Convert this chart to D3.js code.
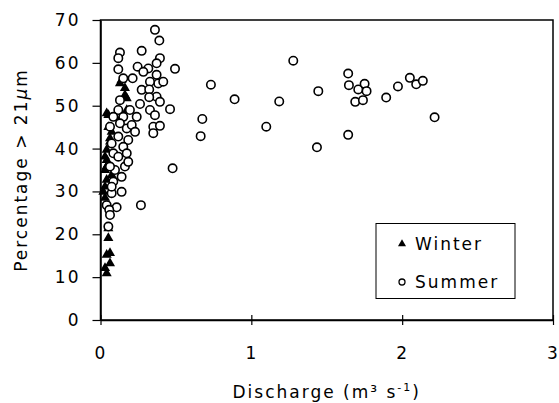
<!DOCTYPE html>
<html>
<head>
<meta charset="utf-8">
<script src="https://cdn.jsdelivr.net/npm/d3@7"></script>
<style>
  body { margin: 0; background: #fff; }
  svg text { font-family: "DejaVu Sans", sans-serif; font-size: 17px; letter-spacing: 2px; fill: #000; }
</style>
</head>
<body>
<div id="chart"></div>
<script>
// discharge (m3/s) vs percentage > 21um
const winter = [
    [0.14, 56], [0.162, 54.1], [0.174, 51.7], [0.129, 55.2], [0.162, 52.5],
    [0.052, 47.8], [0.041, 48.2], [0.174, 49], [0.14, 47.4], [0.052, 45],
    [0.074, 43.9], [0.063, 42.4], [0.063, 41.6], [0.041, 39.7], [0.03, 38.1],
    [0.041, 37.3], [0.041, 35.8], [0.03, 35], [0.074, 33.8], [0.041, 32.7],
    [0.03, 31.1], [0.019, 29.9], [0.03, 28.5], [0.041, 35.8], [0.052, 21.4],
    [0.052, 19.1], [0.063, 15.6], [0.041, 15.2], [0.063, 13.2], [0.03, 12.1],
    [0.041, 10.9]
];

const summer = [
    [0.361, 67.7], [0.39, 65.2], [0.273, 62.8], [0.129, 62.4], [0.118, 61.1],
    [0.394, 61.1], [0.494, 58.6], [0.118, 58.5], [0.246, 59.1], [0.317, 58.7],
    [0.372, 59.9], [0.213, 56.4], [0.151, 56.4], [0.284, 57.9], [0.372, 57.2],
    [0.383, 55.2], [0.416, 55.6], [0.328, 55.6], [0.273, 53.7], [0.323, 53.8],
    [0.372, 52.1], [0.323, 52.0], [0.129, 51.3], [0.394, 50.9], [0.461, 49.2],
    [0.262, 50.4], [0.118, 49.0], [0.195, 49.0], [0.328, 49.0], [0.361, 47.8],
    [0.085, 47.4], [0.151, 47.4], [0.24, 47.4], [0.063, 45.1], [0.129, 45.9],
    [0.174, 44.7], [0.207, 45.5], [0.229, 43.9], [0.35, 45.1], [0.394, 45.3],
    [0.35, 43.6], [0.118, 42.8], [0.184, 42], [0.074, 41.2], [0.151, 40.4],
    [0.085, 38.9], [0.174, 38.9], [0.118, 38.1], [0.162, 35.8], [0.184, 36.9],
    [0.14, 33.4], [0.096, 35], [0.063, 35.8], [0.085, 32.3], [0.14, 29.9],
    [0.074, 29.6], [0.074, 31.1], [0.041, 26.8], [0.107, 26.3], [0.058, 25.7],
    [0.063, 24.5], [0.052, 21.8], [0.268, 26.8], [0.478, 35.4],
    [0.675, 46.9], [0.664, 42.9], [0.732, 54.9], [0.889, 51.5], [1.099, 45.1],
    [1.185, 51.0], [1.278, 60.5], [1.435, 40.3], [1.444, 53.4], [1.642, 57.5],
    [1.647, 54.8], [1.642, 43.2], [1.689, 50.9], [1.709, 53.8], [1.74, 51.3],
    [1.751, 55.1], [1.764, 53.4], [1.894, 51.9], [1.972, 54.5], [2.051, 56.5],
    [2.093, 55.0], [2.137, 55.8], [2.215, 47.3]
];

const seriesNames = ["Winter", "Summer"];
const xTicks = [0, 1, 2, 3];
const yTicks = [0, 10, 20, 30, 40, 50, 60, 70];

const width = 559,
      height = 403,
      margin = ({top: 20, right: 6, bottom: 83, left: 100.5});

let svg = d3.select("#chart")
    .append("svg")
    .attr("width", width)
    .attr("height", height);

const x = d3.scaleLinear()
    .domain([0, 3])
    .range([margin.left, width - margin.right]);

const y = d3.scaleLinear()
    .domain([0, 70])
    .range([height - margin.bottom, margin.top]);

// plot frame (top + right)
svg.append("rect")
    .attr("x", x(0))
    .attr("y", y(70))
    .attr("width", x(3) - x(0))
    .attr("height", y(0) - y(70))
    .attr("fill", "none")
    .attr("stroke", "#000")
    .attr("stroke-width", 1.5);

const xAxis = g => g
    .attr("transform", `translate(0, ${y(0)})`)
    .call(d3.axisBottom(x).tickValues(xTicks).tickFormat(d3.format("d"))
        .tickSizeInner(5).tickSizeOuter(0).tickPadding(22))
    .call(g => g.selectAll(".tick line").attr("y1", -5).attr("stroke-width", 1.2))
    .call(g => g.select(".domain").attr("stroke-width", 1.5))
    .call(g => g.selectAll("text").attr("font-size", null).attr("font-family", null));

const yAxis = g => g
    .attr("transform", `translate(${x(0)}, 0)`)
    .call(d3.axisLeft(y).tickValues(yTicks).tickSizeInner(8).tickSizeOuter(0).tickPadding(12))
    .call(g => g.selectAll(".tick line").attr("stroke-width", 1.2))
    .call(g => g.select(".domain").attr("stroke-width", 1.5))
    .call(g => g.selectAll("text").attr("font-size", null).attr("font-family", null));

svg.append("g").call(xAxis);
svg.append("g").call(yAxis);

// winter triangles first, summer circles on top
const tri = d3.symbol().type(d3.symbolTriangle).size(44);

svg.append("g")
    .selectAll("path")
    .data(winter)
    .join("path")
    .attr("d", tri)
    .attr("transform", d => `translate(${x(d[0])}, ${y(d[1])})`)
    .attr("fill", "#000");

svg.append("g")
    .selectAll("circle")
    .data(summer)
    .join("circle")
    .attr("cx", d => x(d[0]))
    .attr("cy", d => y(d[1]))
    .attr("r", 4.2)
    .attr("fill", "#fff")
    .attr("stroke", "#000")
    .attr("stroke-width", 1.6);

// axis titles
const xt = svg.append("text")
    .attr("x", (x(0) + x(3)) / 2)
    .attr("y", 398)
    .attr("text-anchor", "middle");
xt.append("tspan").text("Discharge (m³ s");
xt.append("tspan").attr("dy", -7).attr("font-size", 11).text("-1");
xt.append("tspan").attr("dy", 7).text(")");

const yt = svg.append("text")
    .attr("transform", `translate(26.5, ${(y(0) + y(70)) / 2}) rotate(-90)`)
    .attr("text-anchor", "middle");
yt.append("tspan").text("Percentage > 21");
yt.append("tspan").attr("font-style", "italic").text("μ");
yt.append("tspan").text("m");

// legend
const legend = svg.append("g");

legend.append("rect")
    .attr("x", 376)
    .attr("y", 223.5)
    .attr("width", 139)
    .attr("height", 75)
    .attr("fill", "#fff")
    .attr("stroke", "#000")
    .attr("stroke-width", 1);

const item = legend.selectAll("g")
    .data(seriesNames)
    .join("g")
    .attr("transform", (d, i) => `translate(402, ${244 + i * 38})`);

item.filter((d, i) => i === 0).append("path")
    .attr("d", d3.symbol().type(d3.symbolTriangle).size(28))
    .attr("fill", "#000");

item.filter((d, i) => i === 1).append("circle")
    .attr("r", 3)
    .attr("fill", "#fff")
    .attr("stroke", "#000")
    .attr("stroke-width", 1.3);

item.append("text")
    .attr("x", 13)
    .attr("y", 6)
    .text(d => d);
</script>
</body>
</html>
